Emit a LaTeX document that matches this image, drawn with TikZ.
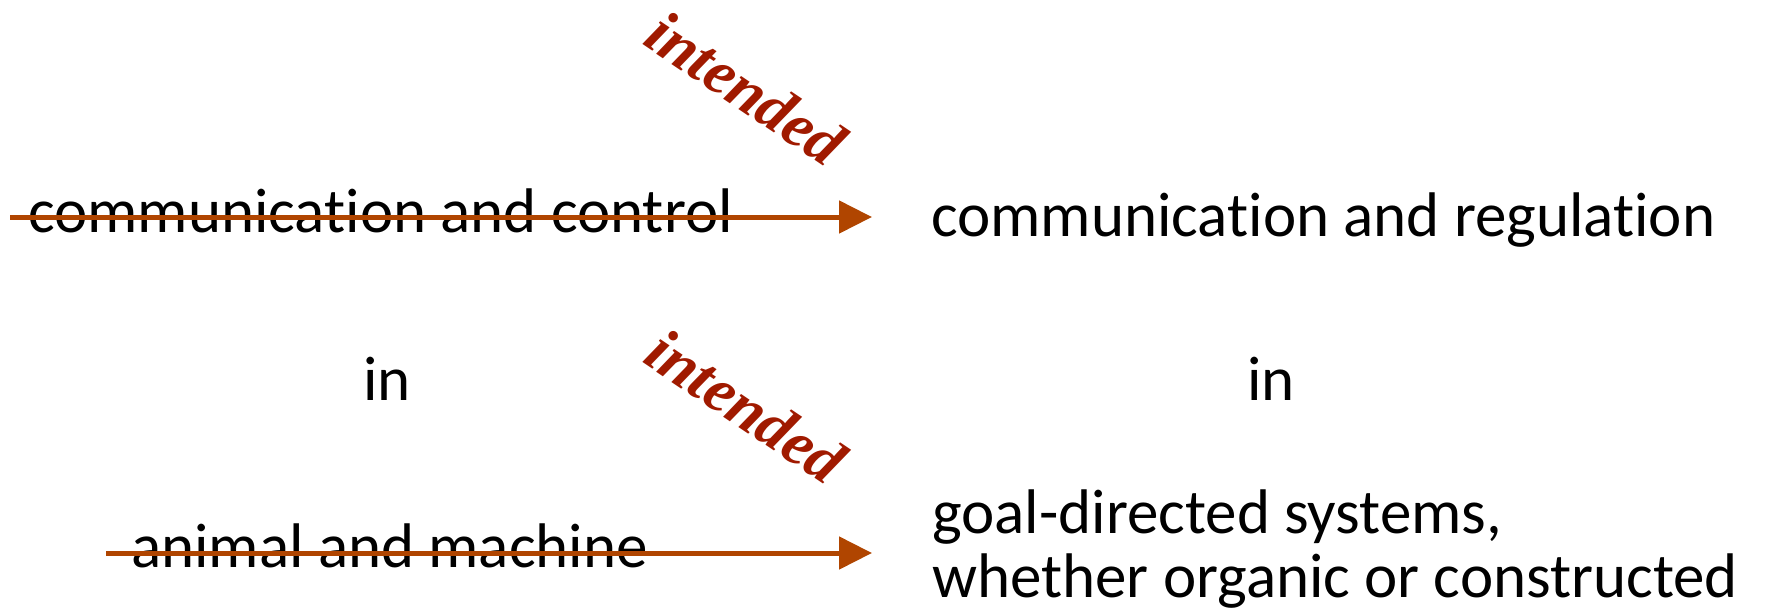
\documentclass[tikz,border=0pt]{standalone}
\usepackage{fontspec}
\setmainfont{Carlito}[Ligatures=NoCommon]
\newfontfamily\notefont{Liberation Serif}
\usetikzlibrary{arrows.meta}
\definecolor{arrowbrown}{HTML}{B04500}
\definecolor{notered}{HTML}{A01A00}
\tikzset{
  phrase/.style={anchor=base west, inner sep=0pt, font=\fontsize{63}{61}\selectfont},
  remark/.style={inner sep=0pt, rotate=-34, text=notered,
    font=\notefont\bfseries\itshape\fontsize{63}{63}\selectfont},
  rewrite/.style={draw=arrowbrown, line width=5pt,
    -{Triangle[length=33pt,width=32pt]}}
}
\begin{document}
\begin{tikzpicture}[x=1pt,y=-1pt]
  \useasboundingbox (0,0) rectangle (1781,614);
  % original wording (struck through) and revised wording
  \node[phrase] (oldtop) at (28,232) {communication and control};
  \node[phrase] (newtop) at (931,236) {communication and regulation};
  \node[phrase] (inleft) at (363,400) {in};
  \node[phrase] (inright) at (1247,400) {in};
  \node[phrase] (oldbot) at (131,567) {animal and machine};
  \node[phrase] (goal1) at (932,533) {goal-directed systems,};
  \node[phrase] (goal2) at (932,597) {whether organic or constructed};
  % annotations
  \node[remark] (notetop) at (746,88) {intended};
  \node[remark] (notebot) at (746,406) {intended};
  % rewrite arrows, drawn over the old wording
  \coordinate (s1) at (10,217);
  \coordinate (e1) at (872,217);
  \coordinate (s2) at (106,553);
  \coordinate (e2) at (872,553);
  \draw[rewrite] (s1) -- (e1);
  \draw[rewrite] (s2) -- (e2);
\end{tikzpicture}
\end{document}
